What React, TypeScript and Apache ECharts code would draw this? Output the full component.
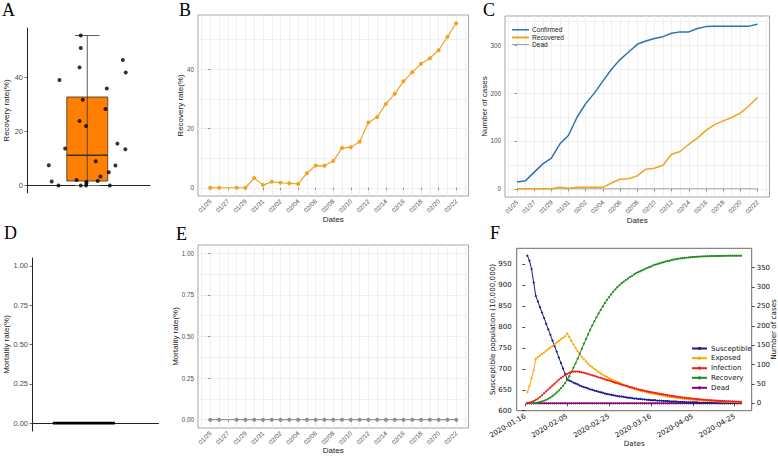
import { useEffect, useRef } from "react";
import * as echarts from "echarts";

// ---------------- Data ----------------
// Panels A, B, C, E: observed dates (2020)
const obsDates = ["01/25","01/26","01/28","01/29","01/30","01/31","02/01","02/02","02/03","02/04","02/05","02/06","02/07","02/08","02/09","02/10","02/11","02/12","02/13","02/14","02/15","02/16","02/17","02/18","02/19","02/20","02/21","02/22"];
const recoveryRate = [0,0,0,0,3.3,0.9,2.0,1.7,1.5,1.3,4.9,7.5,7.4,9.0,13.4,13.7,15.5,22.0,23.9,28.3,31.7,35.9,39.0,41.8,43.7,46.4,50.9,55.5];
const mortalityRate = [0,0,0,0,0,0,0,0,0,0,0,0,0,0,0,0,0,0,0,0,0,0,0,0,0,0,0,0];
const confirmedCases = [14,17,52,64,94,112,150,178,200,225,250,270,286,302,309,314,318,325,328,328,335,339,340,340,340,340,340,344];
const recoveredCases = [0,0,0,0,3,1,3,3,3,3,12,20,21,27,41,43,49,72,78,93,106,122,134,142,149,158,173,191];
const deadCases = [0,0,0,0,0,0,0,0,0,0,0,0,0,0,0,0,0,0,0,0,0,0,0,0,0,0,0,0];
// Panel A: horizontal jitter of each point (fraction of panel width), same order as recoveryRate
const panelAJitter = [-0.234,-0.053,-0.010,0.183,0.107,-0.007,-0.087,0.085,-0.289,-0.007,0.175,-0.313,0.229,0.069,0.310,-0.180,0.245,-0.010,-0.063,0.148,-0.037,0.159,-0.226,0.313,-0.063,0.289,-0.053,-0.053];

const dateTicks = ["01/25","01/27","01/29","01/31","02/02","02/04","02/06","02/08","02/10","02/12","02/14","02/16","02/18","02/20","02/22"];
const rateTicks = [0, 20, 40];
const caseTicks = [0, 100, 200, 300];
const mortTicks = [0, 0.25, 0.5, 0.75, 1];

// Panel F: SEIR model, one value per day starting at seirFirstDate
const seirFirstDate = "2020-01-17";
const seirDateTicks = ["2020-01-16","2020-02-05","2020-02-25","2020-03-16","2020-04-05","2020-04-25"];
const popTicks = [600, 650, 700, 750, 800, 850, 900, 950];
const seirCaseTicks = [0, 50, 100, 150, 200, 250, 300, 350];
const susceptible = [970,958,938,906,874,861,847,834,821,807,794,781,767,754,741,727,714,701,688,675,
672,670,667,665,663,660,658,656,655,653,651,650,648,647,645,644,643,641,640,639,
638,637,636,635,634,634,633,632,631,631,630,629,629,628,628,627,627,626,626,625,
625,625,624,624,624,623,623,623,622,622,622,622,621,621,621,621,620,620,620,620,
620,620,619,619,619,619,619,619,619,619,619,619,618,618,618,618,618,618,618,618,618,618,618];
const exposed = [29,45,65,85,115,119,123,127,131,136,140,144,148,152,157,161,165,169,173,180,
171,161,152,143,135,127,120,114,108,102,97,93,89,85,81,77,74,71,68,65,
62,59,57,55,53,50,48,46,43,41,39,37,35,34,32,31,30,28,27,26,
25,24,23,22,21,20,19,17.5,16.5,15.7,15,14.2,13.5,12.8,12.1,11.5,11,10.4,9.8,9.3,
8.8,8.3,7.8,7.4,7,6.6,6.3,6,5.6,5.3,5,4.8,4.5,4.3,4,3.8,3.6,3.4,3.2,3,2.9,2.7,2.6];
const infection = [1,2,3.5,6,9,12,16,21,26,31,36,41,46,51,56,61,65,69,73,76,
79,81,82,82,82,81,80,79,77,76,74,72,71,69,67,66,64,62,60,59,
57,55,53,52,50,48,47,45,44,42,41,39,38,36,35,34,32,31,30,29,
28,27,26,25,24,23,22,21,20,19,18.3,17.5,16.7,16,15.2,14.5,13.9,13.2,12.6,12,
11.5,11,10.4,10,9.5,9,8.6,8.2,7.8,7.4,7.1,6.7,6.4,6.1,5.8,5.5,5.3,5,4.8,4.6,4.4,4.2,4];
const recovery = [0,0,0.2,0.5,1,2,3.5,5,7,9,12,15,19,23,28,33,39,45,52,60,
70,81,92,103,115,128,141,154,166,178,190,201,212,222,232,241,250,259,267,274,
281,288,294,300,305,310,314,318,322,326,329,333,336,339,341,344,346,349,351,353,
356,358,359,361,363,364,366,367,368,370,371,372,373,374,374.5,375,376,376.5,377,377.5,
378,378.3,378.6,379,379.2,379.4,379.6,379.8,380,380.1,380.2,380.3,380.4,380.5,380.6,380.7,380.8,380.8,380.9,380.9,381,381,381];
const seirDead = [0,0,0,0,0,0,0,0,0,0,0,0,0,0,0,0,0,0,0,0,0,0,0,0,0,0,0,0,0,0,0,0,0,0,0,0,0,0,0,0,
0,0,0,0,0,0,0,0,0,0,0,0,0,0,0,0,0,0,0,0,0,0,0,0,0,0,0,0,0,0,0,0,0,0,0,0,0,0,0,0,
0,0,0,0,0,0,0,0,0,0,0,0,0,0,0,0,0,0,0,0,0,0,0];

// ---------------- Helpers ----------------
const DAY = 86400000;
const pad2 = (n: number) => String(n).padStart(2, "0");
const ORIGIN = Date.UTC(2020, 0, 25);
const md2day = (s: string) => { const [m, d] = s.split("/").map(Number); return (Date.UTC(2020, m - 1, d) - ORIGIN) / DAY; };
const day2md = (v: number) => { const t = new Date(ORIGIN + Math.round(v) * DAY); return `${pad2(t.getUTCMonth() + 1)}/${pad2(t.getUTCDate())}`; };
const SEIR0 = Date.UTC(2020, 0, 16);
const iso2day = (s: string) => (Date.parse(s + "T00:00:00Z") - SEIR0) / DAY;
const day2iso = (v: number) => new Date(SEIR0 + Math.round(v) * DAY).toISOString().slice(0, 10);

const expand = (vals: number[]) => { const a = Math.min(...vals), b = Math.max(...vals); const p = (b - a) * 0.05; return [a - p, b + p]; };
const withMinors = (majors: number[], lo: number, hi: number) => {
  const step = majors[1] - majors[0];
  const out: number[] = [];
  for (let v = majors[0] - step; v <= majors[majors.length - 1] + step + 1e-9; v += step / 2) {
    if (v >= lo - 1e-9 && v <= hi + 1e-9) out.push(+v.toFixed(6));
  }
  return out;
};
const quantile = (s: number[], p: number) => { const h = (s.length - 1) * p; const l = Math.floor(h); const u = Math.min(l + 1, s.length - 1); return s[l] + (h - l) * (s[u] - s[l]); };
const boxStats = (vals: number[]) => {
  const s = [...vals].sort((a, b) => a - b);
  const q1 = quantile(s, 0.25), md = quantile(s, 0.5), q3 = quantile(s, 0.75), iqr = q3 - q1;
  const lo = Math.min(...s.filter((v) => v >= q1 - 1.5 * iqr));
  const hi = Math.max(...s.filter((v) => v <= q3 + 1.5 * iqr));
  return [lo, q1, md, q3, hi];
};

const SANS = "'Liberation Sans', Arial, sans-serif";
const MPL = "'DejaVu Sans', sans-serif";
const SERIF = "'Liberation Serif', 'Times New Roman', serif";
const ORANGE = "#f3a21f";
const GRIDC = "#ebebeb";

const tickLbl = { color: "#4d4d4d", fontSize: 6.3, fontFamily: SANS };
const titleTxt = { color: "#1a1a1a", fontSize: 8, fontFamily: SANS };

function ggX(gridIndex: number, range: number[], nameGap: number) {
  const majors = dateTicks.map(md2day);
  const all = withMinors(majors, range[0], range[1]);
  return [
    {
      type: "value", gridIndex, min: range[0], max: range[1], position: "bottom",
      axisLine: { show: false },
      axisTick: { show: false, customValues: all },
      axisLabel: { customValues: majors, formatter: (v: number) => day2md(v), rotate: 45, margin: 4, ...tickLbl },
      splitLine: { show: true, lineStyle: { color: GRIDC, width: 0.8 } },
      name: "Dates", nameLocation: "middle", nameGap, nameTextStyle: titleTxt, nameMoveOverlap: false,
    },
    {
      type: "value", gridIndex, min: range[0], max: range[1], position: "bottom",
      axisLine: { show: false },
      axisTick: { show: true, customValues: majors, length: 2.5, lineStyle: { color: "#4d4d4d", width: 0.6 } },
      axisLabel: { show: false }, splitLine: { show: false },
    },
  ];
}
function ggY(gridIndex: number, range: number[], majors: number[], name: string, nameGap: number, fmt?: (v: number) => string) {
  const all = withMinors(majors, range[0], range[1]);
  return [
    {
      type: "value", gridIndex, min: range[0], max: range[1], position: "left",
      axisLine: { show: false },
      axisTick: { show: false, customValues: all },
      axisLabel: { customValues: majors, formatter: fmt || ((v: number) => String(v)), margin: 4, ...tickLbl },
      splitLine: { show: true, lineStyle: { color: GRIDC, width: 0.8 } },
      name, nameLocation: "middle", nameGap, nameTextStyle: titleTxt, nameMoveOverlap: false,
    },
    {
      type: "value", gridIndex, min: range[0], max: range[1], position: "left",
      axisLine: { show: false },
      axisTick: { show: true, customValues: majors, length: 2.5, lineStyle: { color: "#4d4d4d", width: 0.6 } },
      axisLabel: { show: false }, splitLine: { show: false },
    },
  ];
}

const boxRender = (boxW: number, capW: number, fill: string, stroke: string, lw: number, medW: number) =>
  (_params: any, api: any) => {
    const cx = api.value(0), lo = api.value(1), q1 = api.value(2), md = api.value(3), q3 = api.value(4), hi = api.value(5);
    const tl = api.coord([cx - boxW / 2, q3]);
    const br = api.coord([cx + boxW / 2, q1]);
    const mL = api.coord([cx - boxW / 2, md]);
    const mR = api.coord([cx + boxW / 2, md]);
    const wT = api.coord([cx, hi]);
    const wB = api.coord([cx, lo]);
    const cTL = api.coord([cx - capW / 2, hi]);
    const cTR = api.coord([cx + capW / 2, hi]);
    const cBL = api.coord([cx - capW / 2, lo]);
    const cBR = api.coord([cx + capW / 2, lo]);
    return {
      type: "group",
      children: [
        { type: "rect", shape: { x: tl[0], y: tl[1], width: br[0] - tl[0], height: br[1] - tl[1] }, style: { fill, stroke, lineWidth: lw } },
        { type: "line", shape: { x1: wT[0], y1: wT[1], x2: wB[0], y2: wB[1] }, style: { stroke, lineWidth: lw } },
        { type: "line", shape: { x1: cTL[0], y1: cTL[1], x2: cTR[0], y2: cTR[1] }, style: { stroke, lineWidth: lw } },
        { type: "line", shape: { x1: cBL[0], y1: cBL[1], x2: cBR[0], y2: cBR[1] }, style: { stroke: "#777", lineWidth: lw } },
        { type: "line", z2: 10, shape: { x1: mL[0], y1: mL[1], x2: mR[0], y2: mR[1] }, style: { stroke, lineWidth: medW, opacity: 1 } },
      ],
    };
  };

export default function App() {
  const ref = useRef<HTMLDivElement>(null);
  useEffect(() => {
    if (!ref.current) return;
    const chart = echarts.init(ref.current, undefined, { renderer: "svg" });

    const obsDays = obsDates.map(md2day);
    const dayRange = expand(obsDays);
    const rateRange = expand(recoveryRate);
    const caseRange = expand([...confirmedCases, ...recoveredCases, ...deadCases]);
    const unitRange = expand([0, 1]);
    const f0 = iso2day(seirFirstDate);
    const fDays = susceptible.map((_, i) => f0 + i);
    const fxRange = expand(fDays);
    const fLeft = expand(susceptible);
    const fLeftRange = [Math.floor(Math.min(fLeft[0], popTicks[0])), fLeft[1]];
    const fRightRange = expand([...exposed, ...infection, ...recovery, ...seirDead]);

    const boxCenterA = 0.49;
    const boxCenterD = 0.41;
    const statsA = boxStats(recoveryRate);
    const statsD = boxStats(mortalityRate);

    const gridBase = { containLabel: false, outerBoundsMode: "none" };
    const grids = [
      { ...gridBase, left: 27, top: 28, width: 123, height: 165 },                 // A
      { ...gridBase, left: 198, top: 15, width: 270.5, height: 181, show: true, borderColor: "#a3a3a3", borderWidth: 1, backgroundColor: "transparent" }, // B
      { ...gridBase, left: 505, top: 16, width: 264.5, height: 181, show: true, borderColor: "#a3a3a3", borderWidth: 1, backgroundColor: "transparent" }, // C
      { ...gridBase, left: 32, top: 258, width: 126.5, height: 173 },              // D
      { ...gridBase, left: 198, top: 245, width: 270.5, height: 183, show: true, borderColor: "#a3a3a3", borderWidth: 1, backgroundColor: "transparent" }, // E
      { ...gridBase, left: 516.7, top: 248.3, width: 235, height: 162.4, show: true, borderColor: "#6a6a6a", borderWidth: 1, backgroundColor: "transparent" }, // F
    ];

    const plainX = (gridIndex: number) => ({
      type: "value", gridIndex, min: 0, max: 1, position: "bottom",
      axisLine: { show: true, lineStyle: { color: "#222", width: 1 } },
      axisTick: { show: false }, axisLabel: { show: false }, splitLine: { show: false },
    });
    const plainY = (gridIndex: number, range: number[], ticks: number[], name: string, nameGap: number, fmt?: (v: number) => string) => ({
      type: "value", gridIndex, min: range[0], max: range[1], position: "left",
      axisLine: { show: true, lineStyle: { color: "#222", width: 1 } },
      axisTick: { show: true, customValues: ticks, length: 2.5, lineStyle: { color: "#333", width: 0.7 } },
      axisLabel: { customValues: ticks, formatter: fmt || ((v: number) => String(v)), margin: 4, color: "#4d4d4d", fontSize: 7.5, fontFamily: SANS },
      splitLine: { show: false },
      name, nameLocation: "middle", nameGap, nameTextStyle: titleTxt, nameMoveOverlap: false,
    });

    const fTickDays = seirDateTicks.map(iso2day);
    const mplTick = { color: "#111", fontSize: 7, fontFamily: MPL };
    const mplName = { color: "#111", fontSize: 7.2, fontFamily: MPL };

    const xAxis: any[] = [
      plainX(0),                         // 0 A
      ...ggX(1, dayRange, 19),           // 1,2 B
      ...ggX(2, dayRange, 19),           // 3,4 C
      plainX(3),                         // 5 D
      ...ggX(4, dayRange, 18),           // 6,7 E
      {                                  // 8 F
        type: "value", gridIndex: 5, min: fxRange[0], max: fxRange[1], position: "bottom",
        axisLine: { show: false },
        axisTick: { show: true, customValues: fTickDays, length: 3, lineStyle: { color: "#222", width: 0.8 } },
        axisLabel: { customValues: fTickDays, formatter: (v: number) => day2iso(v), rotate: 30, margin: 5, ...mplTick },
        splitLine: { show: false },
        name: "Dates", nameLocation: "middle", nameGap: 29, nameTextStyle: mplName, nameMoveOverlap: false,
      },
    ];
    const two = (v: number) => v.toFixed(2);
    const yAxis: any[] = [
      plainY(0, rateRange, rateTicks, "Recovery rate(%)", 17),                    // 0 A
      ...ggY(1, rateRange, rateTicks, "Recovery rate(%)", 14),                     // 1,2 B
      ...ggY(2, caseRange, caseTicks, "Number of cases", 17),                      // 3,4 C
      plainY(3, unitRange, mortTicks, "Mortality rate(%)", 22, two),              // 5 D
      ...ggY(4, unitRange, mortTicks, "Mortality rate(%)", 19, two),               // 6,7 E
      {                                                                            // 8 F left
        type: "value", gridIndex: 5, min: fLeftRange[0], max: fLeftRange[1], position: "left",
        axisLine: { show: false },
        axisTick: { show: true, customValues: popTicks, length: 3, lineStyle: { color: "#222", width: 0.8 } },
        axisLabel: { customValues: popTicks, margin: 5, ...mplTick },
        splitLine: { show: false },
        name: "Susceptible population (10,000,000)", nameLocation: "middle", nameGap: 21, nameTextStyle: mplName, nameMoveOverlap: false,
      },
      {                                                                            // 9 F right
        type: "value", gridIndex: 5, min: fRightRange[0], max: fRightRange[1], position: "right",
        axisLine: { show: false },
        axisTick: { show: true, customValues: seirCaseTicks, length: 3, lineStyle: { color: "#222", width: 0.8 } },
        axisLabel: { customValues: seirCaseTicks, margin: 5, ...mplTick },
        splitLine: { show: false },
        name: "Number of cases", nameLocation: "middle", nameGap: 18, nameTextStyle: mplName, nameMoveOverlap: false,
      },
    ];

    const fSeries = (name: string, vals: number[], color: string, yAxisIndex: number, z: number) => ({
      name, type: "line", xAxisIndex: 8, yAxisIndex, z,
      data: vals.map((v, i) => [fDays[i], v]),
      symbol: "circle", symbolSize: 2.2, showSymbol: true,
      lineStyle: { color, width: 1 }, itemStyle: { color },
    });

    const series: any[] = [
      // A
      { type: "custom", xAxisIndex: 0, yAxisIndex: 0, z: 2, renderItem: boxRender(0.333, 0.2, "#ff8000", "#333", 0.8, 1.3), data: [[boxCenterA, ...statsA]] },
      { type: "scatter", xAxisIndex: 0, yAxisIndex: 0, z: 3, symbolSize: 4, itemStyle: { color: "#000" }, data: recoveryRate.map((v, i) => [boxCenterA + panelAJitter[i], v]) },
      // B
      { type: "line", xAxisIndex: 1, yAxisIndex: 1, data: obsDays.map((d, i) => [d, recoveryRate[i]]), symbol: "circle", symbolSize: 4, lineStyle: { color: ORANGE, width: 1.2 }, itemStyle: { color: ORANGE } },
      // C
      { name: "Dead", type: "line", xAxisIndex: 3, yAxisIndex: 3, z: 2, data: obsDays.map((d, i) => [d, deadCases[i]]), symbol: "none", lineStyle: { color: "#a6a6a6", width: 1 }, itemStyle: { color: "#a6a6a6" } },
      { name: "Recovered", type: "line", xAxisIndex: 3, yAxisIndex: 3, z: 3, data: obsDays.map((d, i) => [d, recoveredCases[i]]), symbol: "none", lineStyle: { color: ORANGE, width: 1.5 }, itemStyle: { color: ORANGE } },
      { name: "Confirmed", type: "line", xAxisIndex: 3, yAxisIndex: 3, z: 4, data: obsDays.map((d, i) => [d, confirmedCases[i]]), symbol: "none", lineStyle: { color: "#2c73b4", width: 1.5 }, itemStyle: { color: "#2c73b4" } },
      // D
      { type: "custom", xAxisIndex: 5, yAxisIndex: 5, z: 5, renderItem: boxRender(0.49, 0.2, "none", "#000", 1.4, 2.6), data: [[boxCenterD, ...statsD]] },
      // E
      { type: "line", xAxisIndex: 6, yAxisIndex: 6, data: obsDays.map((d, i) => [d, mortalityRate[i]]), symbol: "circle", symbolSize: 4, lineStyle: { color: "#9a9a9a", width: 1.2 }, itemStyle: { color: "#8f8f8f" } },
      // F
      fSeries("Dead (SEIR)", seirDead, "#800080", 9, 2),
      fSeries("Susceptible", susceptible, "#1b1b8c", 8, 3),
      fSeries("Exposed", exposed, "#ffa500", 9, 3),
      fSeries("Infection", infection, "#f01e1e", 9, 4),
      fSeries("Recovery", recovery, "#1e8c1e", 9, 3),
    ];

    const cLegend = (name: string, top: number, thick: number) => ({
      data: [name], left: 512, top, orient: "vertical", padding: 0, itemGap: 0,
      icon: "rect", itemWidth: 17, itemHeight: thick, selectedMode: false,
      textStyle: { fontSize: 6.6, color: "#222", fontFamily: SANS, padding: [0, 0, 0, -2] },
    });
    const fLegend = (name: string, top: number, label?: string) => ({
      data: [name], left: 691, top, orient: "vertical", padding: 0, itemGap: 0,
      itemWidth: 15, itemHeight: 4, selectedMode: false,
      formatter: label ? () => label : undefined,
      textStyle: { fontSize: 7, color: "#111", fontFamily: MPL, padding: [0, 0, 0, -1] },
    });

    const letter = (t: string, x: number, y: number) => ({
      type: "text", x, y, style: { text: t, font: `18px ${SERIF}`, fill: "#000", verticalAlign: "top", align: "left" },
    });

    chart.setOption({
      animation: false,
      textStyle: { fontFamily: SANS },
      grid: grids,
      xAxis,
      yAxis,
      series,
      legend: [
        cLegend("Confirmed", 26.3, 1.5),
        cLegend("Recovered", 34, 2),
        cLegend("Dead", 41, 1),
        fLegend("Susceptible", 345),
        fLegend("Exposed", 354.7),
        fLegend("Infection", 364.7),
        fLegend("Recovery", 374.3),
        fLegend("Dead (SEIR)", 384.3, "Dead"),
      ],
      graphic: [
        letter("A", 2, 1),
        letter("B", 179, 1),
        letter("C", 483, 1),
        letter("D", 4, 224),
        letter("E", 176, 225),
        letter("F", 490, 224),
      ],
    });
    return () => chart.dispose();
  }, []);
  return <div ref={ref} style={{ position: "absolute", left: 0, top: 0, width: 778, height: 456, background: "#fff" }} />;
}
